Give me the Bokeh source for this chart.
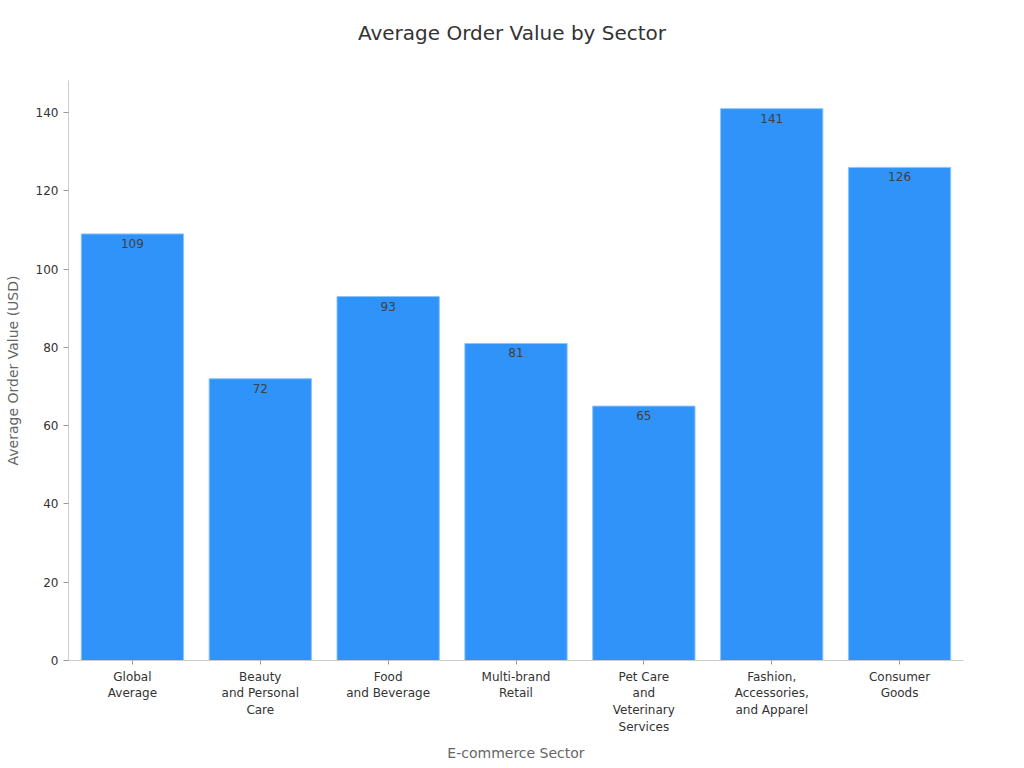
from bokeh.plotting import figure
from bokeh.models import ColumnDataSource, LabelSet, FixedTicker, Range1d, Div
from bokeh.layouts import column
from bokeh.core.properties import value
from bokeh.embed import file_html
from bokeh.resources import INLINE

title_text = "Average Order Value by Sector"
categories = ["Global\nAverage", "Beauty\nand Personal\nCare", "Food\nand Beverage",
              "Multi-brand\nRetail", "Pet Care\nand\nVeterinary\nServices",
              "Fashion,\nAccessories,\nand Apparel", "Consumer\nGoods"]
values = [109, 72, 93, 81, 65, 141, 126]
y_ticks = [0, 20, 40, 60, 80, 100, 120, 140]

FONT = "DejaVu Sans"

src = ColumnDataSource(dict(cat=categories, val=values, lbl=[str(v) for v in values]))

head = Div(text=title_text, width=1024, height=80, margin=0,
           styles={"width": "1024px", "text-align": "center", "font-family": "'DejaVu Sans'",
                   "font-size": "20px", "color": "#333333", "line-height": "66px"})

p = figure(x_range=categories, y_range=Range1d(0, 148.2), width=1024, height=688,
           output_backend="svg", toolbar_location=None,
           min_border_left=68, min_border_right=61, min_border_top=0, min_border_bottom=108)
p.x_range.range_padding = 0

p.vbar(x="cat", top="val", width=0.8, source=src, fill_color="#2f93f9",
       line_color="#8cc4fb", line_width=1)

labels = LabelSet(x="cat", y="val", text="lbl", source=src, text_align="center",
                  text_baseline="top", y_offset=-5, text_font_size="12px",
                  text_color="#404040", text_font=value(FONT))
p.add_layout(labels)

p.xgrid.visible = False
p.ygrid.visible = False
p.outline_line_color = None

p.yaxis.ticker = FixedTicker(ticks=y_ticks)
p.yaxis.minor_tick_line_color = None
p.yaxis.major_tick_in = 0
p.yaxis.major_tick_out = 5
p.xaxis.major_tick_in = 0
p.xaxis.major_tick_out = 4
for ax in (p.xaxis, p.yaxis):
    ax.axis_line_color = "#cccccc"
    ax.major_tick_line_color = "#999999"
    ax.major_label_text_font = FONT
    ax.major_label_text_font_size = "12px"
    ax.major_label_text_color = "#333333"
    ax.axis_label_text_font = FONT
    ax.axis_label_text_font_size = "14px"
    ax.axis_label_text_font_style = "normal"
    ax.axis_label_text_color = "#666666"

p.xaxis.axis_label = "E-commerce Sector"
p.yaxis.axis_label = "Average Order Value (USD)"
p.xaxis.axis_label_standoff = 8
p.yaxis.axis_label_standoff = 12

layout = column(head, p, spacing=0)
open("out.html", "w").write(file_html(layout, INLINE))
